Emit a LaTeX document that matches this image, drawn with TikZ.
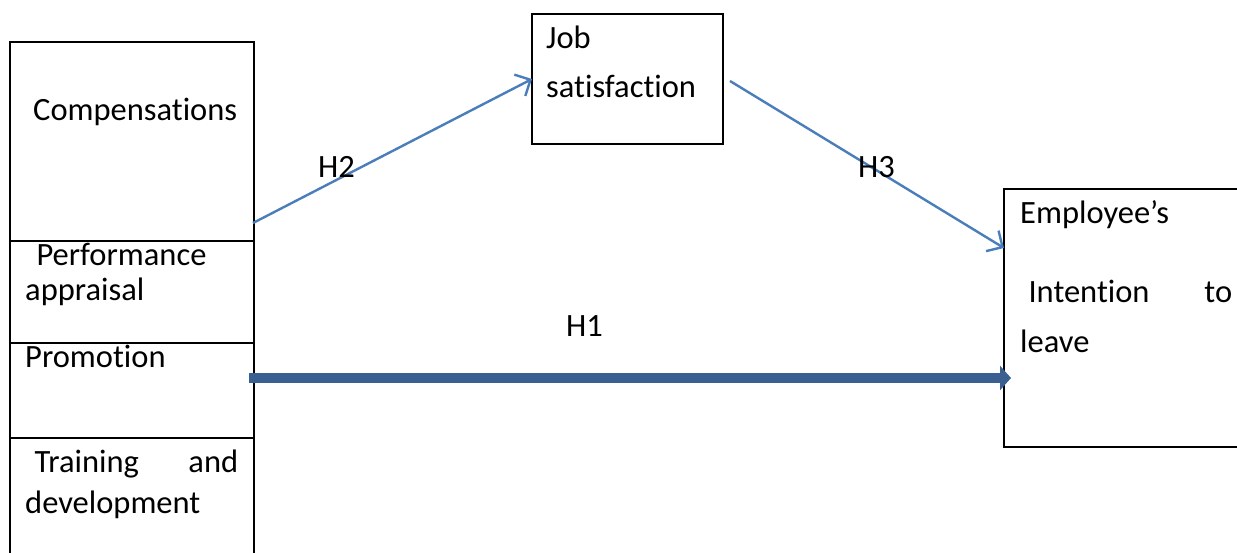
\documentclass[tikz,border=0pt]{standalone}
\usepackage{fontspec}
\setmainfont{Carlito}[Ligatures={NoCommon}]
\usetikzlibrary{arrows.meta}
\definecolor{thinblue}{HTML}{4A7EBB}
\definecolor{thickblue}{HTML}{3A5F91}
\begin{document}
\begin{tikzpicture}[x=1pt,y=-1pt,
  box/.style={draw=black,line width=2pt,rectangle,inner sep=0pt},
  lbl/.style={anchor=base west,inner sep=0pt,font=\fontsize{32.5}{40}\selectfont},
  thinarrow/.style={draw=thinblue,line width=2.4pt,-{Straight Barb[length=12pt,width=24pt]}},
  thickarrow/.style={draw=thickblue,line width=10.5pt,-{Triangle[length=11pt,width=24pt]}}]
\useasboundingbox (0,0) rectangle (1237,552);
\fill[white] (0,0) rectangle (1237,552);
% left stacked boxes
\node[box,minimum width=244pt,minimum height=199pt] (comp) at (132,141.5) {};
\node[box,minimum width=244pt,minimum height=102pt] (perf) at (132,292) {};
\node[box,minimum width=244pt,minimum height=95pt] (promo) at (132,390.5) {};
\node[box,minimum width=244pt,minimum height=140pt] (train) at (132,508) {};
% job satisfaction box
\node[box,minimum width=191pt,minimum height=130pt] (job) at (627.5,79) {};
% employee box (extends beyond right edge)
\node[box,minimum width=260pt,minimum height=258pt] (emp) at (1134,318) {};
% texts
\node[lbl] (tcomp) at (33,120) {Compensations};
\node[lbl] (tperf) at (29,265) {\ Performance};
\node[lbl] (tappr) at (25,300) {appraisal};
\node[lbl] (tprom) at (25,367) {Promotion};
\node[lbl] (ttrain) at (27,472) {\hbox to 211pt{\ Training\hfill and}};
\node[lbl] (tdev) at (25,513) {development};
\node[lbl] (tjob) at (546,48) {Job};
\node[lbl] (tsat) at (546,97) {satisfaction};
\node[lbl] (temp) at (1020,223) {Employee’s};
\node[lbl] (tint) at (1021,302) {\hbox to 211pt{\ Intention\hfill to}};
\node[lbl] (tleave) at (1020,352) {leave};
% connector end points
\coordinate (h2s) at (253,223);
\coordinate (h2e) at (532,79);
\coordinate (h3s) at (730,81);
\coordinate (h3e) at (1004,248);
\coordinate (h1s) at (249,378);
\coordinate (h1e) at (1011,378);
\draw[thinarrow] (h2s) -- (h2e);
\draw[thinarrow] (h3s) -- (h3e);
\draw[thickarrow] (h1s) -- (h1e);
% hypothesis labels
\node[lbl] (lh2) at (318,177) {H2};
\node[lbl] (lh3) at (858,177) {H3};
\node[lbl] (lh1) at (566,336) {H1};
\end{tikzpicture}
\end{document}
